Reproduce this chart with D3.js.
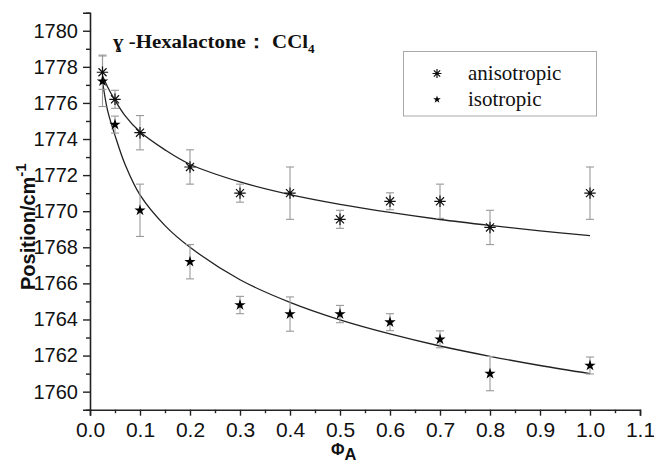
<html>
<head>
    <script src="https://cdnjs.cloudflare.com/ajax/libs/d3/7.8.5/d3.min.js"></script>
    <style>
        body { margin: 0; background: #fff; }
    </style>
</head>
<body>

<script>
// Volume fraction of the lactone
var phi = [0.025, 0.05, 0.1, 0.2, 0.3, 0.4, 0.5, 0.6, 0.7, 0.8, 1.0];

// Measured band positions with their error bars
var aniso    = [1777.7, 1776.2, 1774.35, 1772.45, 1771.0, 1771.0, 1769.55, 1770.55, 1770.55, 1769.1, 1771.0];
var anisoErr = [0.95, 0.5, 0.95, 0.95, 0.5, 1.45, 0.5, 0.47, 0.95, 0.95, 1.45];
var iso      = [1777.2, 1774.8, 1770.05, 1767.2, 1764.8, 1764.3, 1764.3, 1763.85, 1762.9, 1761.0, 1761.45];
var isoErr   = [1.4, 0.47, 1.45, 0.95, 0.48, 0.95, 0.48, 0.47, 0.47, 0.95, 0.47];

// Fitted curves
var fitPhi   = [0.025, 0.035, 0.05, 0.07, 0.1, 0.15, 0.2, 0.3, 0.4, 0.5, 0.6, 0.7, 0.8, 0.9, 1.0];
var anisoFit = [1777.5, 1776.9, 1776.15, 1775.3, 1774.4, 1773.4, 1772.6, 1771.62, 1770.92, 1770.38, 1769.93, 1769.54, 1769.21, 1768.91, 1768.65];
var isoFit   = [1777.2, 1775.6, 1774.2, 1772.6, 1770.9, 1769.2, 1768.0, 1766.2, 1764.95, 1763.98, 1763.2, 1762.53, 1761.96, 1761.45, 1761.0];

// Tick labels
var xTicks = [0, 0.1, 0.2, 0.3, 0.4, 0.5, 0.6, 0.7, 0.8, 0.9, 1.0, 1.1];
var yTicks = [1760, 1762, 1764, 1766, 1768, 1770, 1772, 1774, 1776, 1778, 1780];

var width = 654, height = 465;

var svg = d3.select("body").append("svg")
    .attr("width", width)
    .attr("height", height);

var x = d3.scaleLinear().domain([0, 1.1]).range([90, 640]);
var y = d3.scaleLinear().domain([1759, 1781]).range([409.7, 12.7]);

// Axes: major ticks with labels, then minor ticks without
var xAxis = svg.append("g")
    .attr("transform", "translate(0,409.7)")
    .call(d3.axisBottom(x).tickValues(xTicks).tickSize(6).tickPadding(6)
        .tickFormat(d3.format(".1f")));

svg.append("g")
    .attr("transform", "translate(0,409.7)")
    .call(d3.axisBottom(x).tickValues(d3.range(0.05, 1.1, 0.1)).tickSize(3.5).tickFormat(""))
    .select(".domain").remove();

var yAxis = svg.append("g")
    .attr("transform", "translate(90,0)")
    .call(d3.axisLeft(y).tickValues(yTicks).tickSize(7).tickPadding(5)
        .tickFormat(d3.format("d")));

svg.append("g")
    .attr("transform", "translate(90,0)")
    .call(d3.axisLeft(y).tickValues(d3.range(1759, 1782, 2)).tickSize(4).tickFormat(""))
    .select(".domain").remove();

svg.selectAll(".domain")
    .attr("stroke", "#222")
    .attr("stroke-width", 1.6);
svg.selectAll(".tick line")
    .attr("stroke", "#222")
    .attr("stroke-width", 1.4);

xAxis.selectAll("text")
    .attr("font-family", "Liberation Sans, Arial, sans-serif")
    .attr("font-size", 21)
    .attr("fill", "#111");
yAxis.selectAll("text")
    .attr("font-family", "Liberation Sans, Arial, sans-serif")
    .attr("font-size", 20)
    .attr("fill", "#111");

// Axis titles
var xTitle = svg.append("text")
    .attr("x", 331)
    .attr("y", 455)
    .attr("font-family", "Liberation Sans, Arial, sans-serif")
    .attr("font-weight", "bold")
    .attr("font-size", 16.5)
    .attr("fill", "#111");
xTitle.append("tspan").text("\u03A6");
xTitle.append("tspan").attr("dy", 5).text("A");

var yTitle = svg.append("text")
    .attr("transform", "translate(35,290) rotate(-90)")
    .attr("font-family", "Liberation Sans, Arial, sans-serif")
    .attr("font-weight", "bold")
    .attr("font-size", 20)
    .attr("fill", "#111");
yTitle.append("tspan").text("Position/cm");
yTitle.append("tspan").attr("dy", -9).attr("font-size", 15).text("-1");

// Plot title, slightly widened like the original
var title = svg.append("text")
    .attr("transform", "translate(113,48) scale(1.1,1)")
    .attr("font-family", "Liberation Serif, Times New Roman, serif")
    .attr("font-weight", "bold")
    .attr("font-size", 19)
    .attr("fill", "#111");
title.append("tspan").text("\u0263 -Hexalactone\uFF1A  CCl");
title.append("tspan").attr("dy", 5).attr("font-size", 12).text("4");

// Fitted curves
var line = d3.line()
    .x(function(d) { return x(d[0]); })
    .y(function(d) { return y(d[1]); })
    .curve(d3.curveCatmullRom);

[anisoFit, isoFit].forEach(function(fit) {
    svg.append("path")
        .attr("d", line(d3.zip(fitPhi, fit)))
        .attr("fill", "none")
        .attr("stroke", "#222")
        .attr("stroke-width", 1.3);
});

// Error bars
function errorBars(vals, errs) {
    var g = svg.append("g")
        .attr("stroke", "#999")
        .attr("stroke-width", 1.1);
    phi.forEach(function(p, i) {
        var top = y(vals[i] + errs[i]), bot = y(vals[i] - errs[i]), cx = x(p);
        g.append("line").attr("x1", cx).attr("x2", cx).attr("y1", top).attr("y2", bot);
        g.append("line").attr("x1", cx - 4).attr("x2", cx + 4).attr("y1", top).attr("y2", top);
        g.append("line").attr("x1", cx - 4).attr("x2", cx + 4).attr("y1", bot).attr("y2", bot);
    });
}
errorBars(aniso, anisoErr);
errorBars(iso, isoErr);

// Eight-armed asterisk symbol
var asterisk = {
    draw: function(ctx, size) {
        var r = Math.sqrt(size) / 2, k = r * Math.SQRT1_2;
        ctx.moveTo(-r, 0); ctx.lineTo(r, 0);
        ctx.moveTo(0, -r); ctx.lineTo(0, r);
        ctx.moveTo(-k, -k); ctx.lineTo(k, k);
        ctx.moveTo(-k, k); ctx.lineTo(k, -k);
    }
};

function drawAsterisk(cx, cy, size) {
    svg.append("path")
        .attr("transform", "translate(" + cx + "," + cy + ")")
        .attr("d", d3.symbol().type(asterisk).size(size)())
        .attr("fill", "none")
        .attr("stroke", "#111")
        .attr("stroke-width", 1.2);
    svg.append("circle")
        .attr("cx", cx).attr("cy", cy).attr("r", 1.6)
        .attr("fill", "#111");
}

function drawStar(cx, cy, size) {
    svg.append("path")
        .attr("transform", "translate(" + cx + "," + cy + ")")
        .attr("d", d3.symbol().type(d3.symbolStar).size(size)())
        .attr("fill", "#000");
}

phi.forEach(function(p, i) {
    drawAsterisk(x(p), y(aniso[i]), 130);
    drawStar(x(p), y(iso[i]), 40);
});

// Legend
var legend = svg.append("g");
legend.append("rect")
    .attr("x", 403.5).attr("y", 51.5)
    .attr("width", 193).attr("height", 64.5)
    .attr("fill", "#fff")
    .attr("stroke", "#aaa")
    .attr("stroke-width", 1);

drawAsterisk(437, 73.5, 80);
drawStar(437, 99.5, 18);

legend.selectAll("text")
    .data(["anisotropic", "isotropic"])
    .enter().append("text")
    .attr("x", 468)
    .attr("y", function(d, i) { return 80 + i * 25.5; })
    .attr("font-family", "Liberation Serif, Times New Roman, serif")
    .attr("font-size", 21)
    .attr("fill", "#111")
    .text(function(d) { return d; });
</script>

</body>
</html>
